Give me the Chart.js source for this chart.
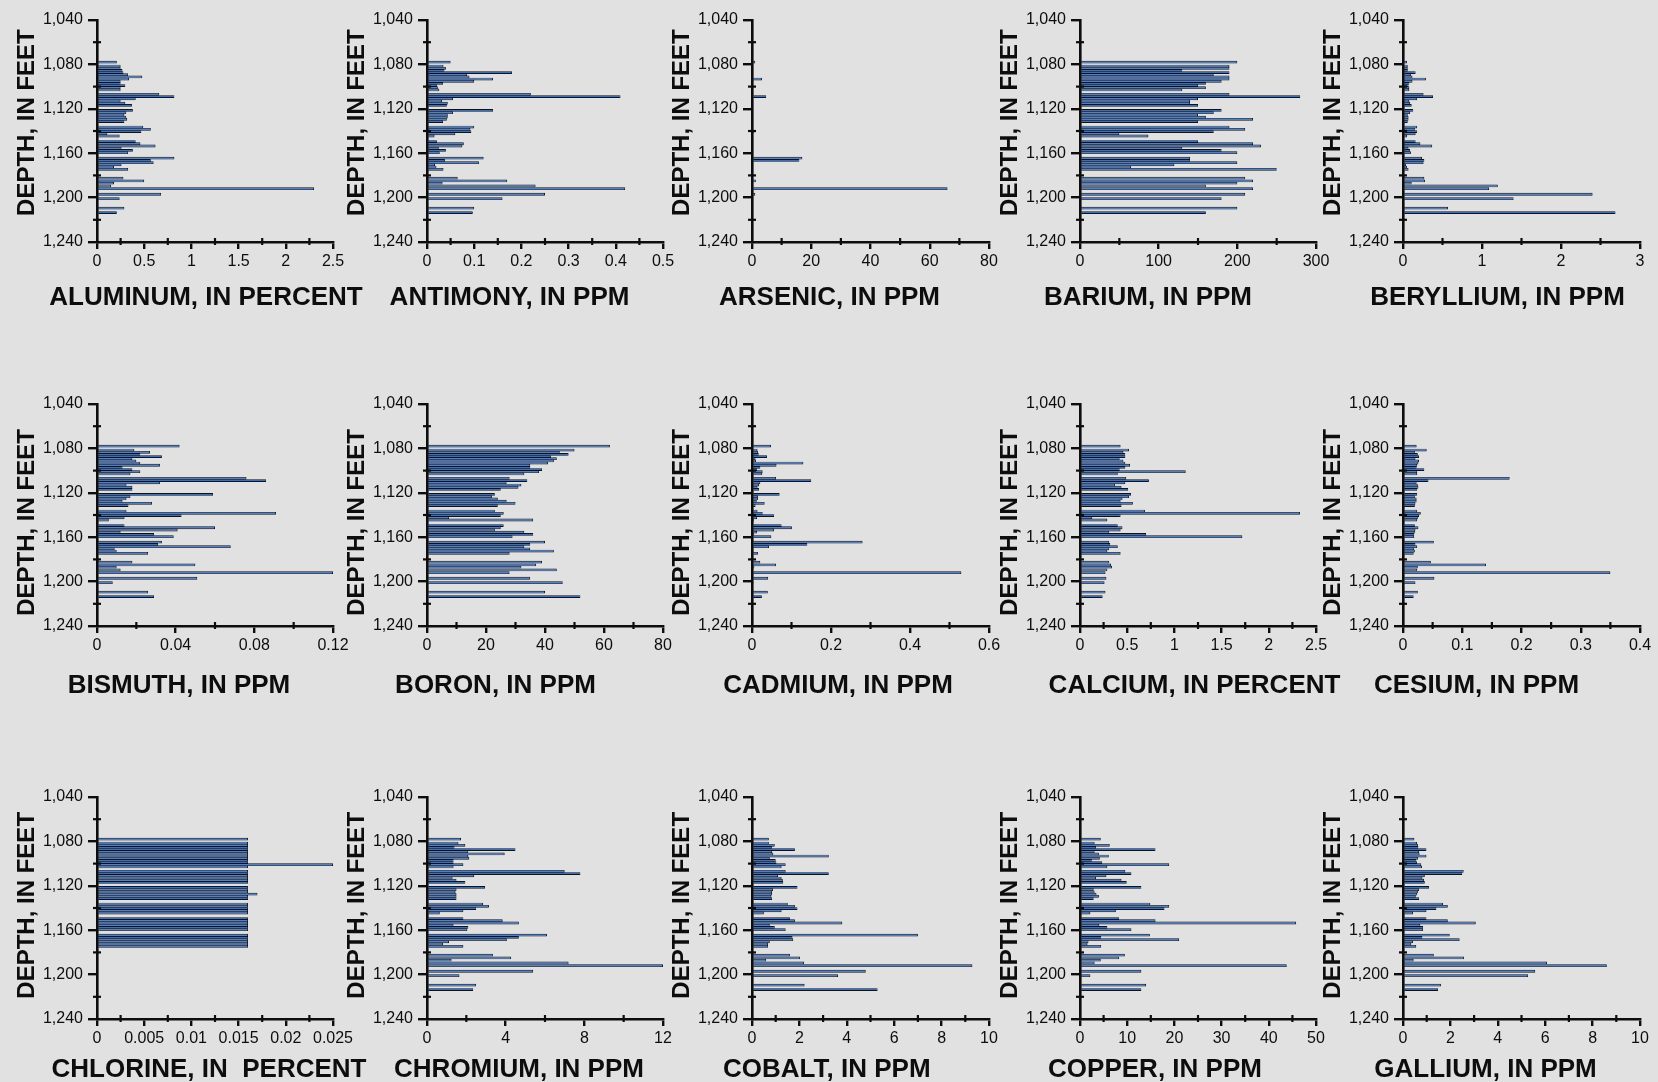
<!DOCTYPE html>
<html><head><meta charset="utf-8">
<script src="https://cdn.jsdelivr.net/npm/chart.js@4.4.1/dist/chart.umd.min.js"></script>
<style>
html,body{margin:0;padding:0;background:#e1e1e1;overflow:hidden;width:1658px;height:1082px;}
canvas{position:absolute;}
</style></head><body>
<script>
// Sample depths (feet), shared by every panel
const depths = [1078, 1081.5, 1083.5, 1085.4, 1087.4, 1089.3, 1091.3, 1093.2, 1095.2, 1097.1, 1099.1, 1101, 1103,
  1107, 1109, 1111, 1113, 1115, 1117,
  1121.5, 1123.5, 1125.5, 1127.5, 1129.5, 1131.5,
  1136.5, 1138.5, 1140.5, 1142.5, 1144.5,
  1149.5, 1151.5, 1153.5, 1155.5, 1157.5, 1159.5,
  1164.5, 1166.5, 1168.5, 1170.5, 1172.5, 1174.5,
  1182.5, 1185, 1187, 1189.5, 1192,
  1197, 1201,
  1209.5, 1213.5];

const aluminum = [0.21,0.25,0.25,0.27,0.28,0.33,0.48,0.34,0.25,0.25,0.30,0.25,0.25,
  0.66,0.82,0.41,0.25,0.30,0.37, 0.38,0.31,0.29,0.31,0.32,0.29, 0.49,0.57,0.47,0.11,0.24,
  0.41,0.46,0.62,0.26,0.38,0.33, 0.82,0.57,0.60,0.26,0.18,0.33, 0.28,0.50,0.18,0.15,2.30,
  0.68,0.24, 0.29,0.21];
const antimony = [0.05,0.035,0.04,0.037,0.18,0.085,0.09,0.14,0.10,0.034,0.021,0.023,0.026,
  0.22,0.41,0.055,0.032,0.044,0.042, 0.14,0.055,0.044,0.044,0.042,0.034, 0.10,0.092,0.094,0.06,0.016,
  0.021,0.078,0.075,0.025,0.04,0.027, 0.12,0.038,0.11,0.017,0.02,0.035, 0.065,0.17,0.033,0.23,0.42,
  0.25,0.16, 0.10,0.097];
const arsenic = [1.1,0.3,0.3,0.3,0.3,0.3,0.3,3.4,0.3,0.3,0.3,0.3,0.3,
  0.3,4.8,0.3,0.3,0.3,0.3, 0.5,0.5,0.3,0.3,0.3,0.3, 0.3,0.3,0.8,0.3,0.3,
  0.3,0.3,0.3,0.3,0.3,0.3, 17,16,0.3,0.3,0.3,0.3, 0.3,1.3,0.3,0.3,66,
  1.1,0.3, 0.3,0.3];
const barium = [200,190,190,130,190,170,190,190,180,160,150,160,130,
  190,280,150,140,140,150, 180,170,150,160,220,150, 190,210,170,50,87,
  150,220,230,130,180,200, 140,140,200,120,65,250, 210,220,200,160,220,
  210,180, 200,160];
const beryllium = [0.05,0.06,0.06,0.06,0.16,0.10,0.12,0.29,0.12,0.08,0.07,0.08,0.08,
  0.26,0.38,0.18,0.08,0.09,0.11, 0.13,0.09,0.06,0.07,0.07,0.06, 0.18,0.15,0.18,0.16,0.05,
  0.16,0.22,0.37,0.07,0.09,0.10, 0.24,0.27,0.26,0.04,0.05,0.07, 0.27,0.28,0.11,1.20,1.09,
  2.40,1.40, 0.57,2.69];
const bismuth = [0.042,0.019,0.027,0.022,0.033,0.018,0.02,0.022,0.032,0.013,0.018,0.022,0.017,
  0.076,0.086,0.032,0.015,0.018,0.018, 0.059,0.017,0.015,0.013,0.028,0.016, 0.015,0.091,0.043,0.014,0.006,
  0.014,0.06,0.041,0.012,0.029,0.039, 0.033,0.031,0.068,0.009,0.01,0.026, 0.018,0.05,0.01,0.012,0.12,
  0.051,0.008, 0.026,0.029];
const boron = [62,50,45,48,42,44,43,41,35,35,39,38,33,
  28,34,27,32,31,25, 23,22,24,27,30,24, 23,26,25,7.5,36,
  26,25,23,33,36,29, 40,35,33,35,43,28, 39,37,32,44,28,
  35,46, 40,52];
const cadmium = [0.048,0.014,0.015,0.017,0.038,0.009,0.01,0.13,0.062,0.021,0.013,0.027,0.026,
  0.061,0.15,0.021,0.018,0.014,0.018, 0.07,0.015,0.015,0.012,0.032,0.009, 0.014,0.027,0.056,0.013,0.005,
  0.075,0.101,0.056,0.013,0.005,0.049, 0.28,0.14,0.043,0.002,0.004,0.015, 0.021,0.061,0.006,0.003,0.53,
  0.041,0.004, 0.04,0.025];
const calcium = [0.43,0.52,0.46,0.48,0.48,0.42,0.46,0.48,0.53,0.48,0.42,1.12,0.40,
  0.49,0.73,0.48,0.37,0.44,0.51, 0.54,0.52,0.45,0.43,0.56,0.44, 0.69,2.33,0.43,0.13,0.29,
  0.40,0.45,0.43,0.31,0.70,1.72, 0.31,0.32,0.40,0.31,0.29,0.43, 0.31,0.33,0.34,0.29,0.27,
  0.28,0.26, 0.27,0.24];
const cesium = [0.023,0.04,0.02,0.025,0.027,0.021,0.027,0.026,0.024,0.023,0.036,0.024,0.024,
  0.18,0.043,0.023,0.025,0.026,0.024, 0.024,0.02,0.023,0.023,0.021,0.02, 0.024,0.03,0.027,0.025,0.024,
  0.02,0.026,0.021,0.02,0.019,0.019, 0.052,0.021,0.024,0.019,0.02,0.018, 0.047,0.14,0.025,0.024,0.35,
  0.053,0.021, 0.025,0.018];
const chlorine = [0.016,0.016,0.016,0.016,0.016,0.016,0.016,0.016,0.016,0.016,0.016,0.025,0.016,
  0.016,0.016,0.016,0.016,0.016,0.016, 0.016,0.016,0.016,0.017,0.016,0.016, 0.016,0.016,0.016,0.016,0.016,
  0.016,0.016,0.016,0.016,0.016,0.016, 0.016,0.016,0.016,0.016,0.016,0.016, null,null,null,null,null,
  null,null, null,null];
const chromium = [1.73,1.6,1.95,1.4,4.5,2.1,3.95,2.1,2.15,1.35,1.35,1.85,1.35,
  7.0,7.8,2.4,1.3,1.5,1.95, 2.95,1.5,1.45,1.5,1.5,1.5, 2.85,3.15,2.5,1.85,0.65,
  1.85,3.85,4.67,1.35,2.1,2.05, 6.1,4.67,4.06,1.12,0.82,1.85, 3.35,4.28,1.25,7.2,12,
  5.4,1.65, 2.5,2.35];
const cobalt = [0.71,0.71,0.96,0.85,1.81,0.85,0.9,3.24,0.75,1.0,1.03,1.42,1.25,
  1.42,3.24,1.1,1.25,1.3,1.32, 1.92,0.89,0.85,0.85,0.82,0.85, 1.51,1.81,1.92,1.25,0.5,
  1.6,1.81,3.81,0.75,0.96,1.42, 7.0,1.71,1.74,0.75,0.68,0.68, 1.6,2.03,0.6,2.2,9.3,
  4.8,3.63, 2.22,5.3];
const copper = [4.4,3.1,6.3,3.4,16,3.1,4.0,6.1,4.2,2.5,4.7,18.9,5.8,
  9.6,10.9,5.6,3.4,8.8,9.9, 13,2.9,3.1,3.5,4,2.9, 14.9,18.9,17.9,7.6,2.2,
  8.3,16,45.8,4.1,5.8,10.9, 14.8,4.5,21,1.8,1.6,4.5, 9.5,8.3,4.4,3.1,43.8,
  13,2.2, 14,13];
const gallium = [0.48,0.59,0.63,0.65,0.99,0.68,0.7,0.99,0.63,0.56,0.59,0.77,0.8,
  2.56,2.5,0.92,0.82,0.89,0.92, 1.1,0.68,0.63,0.6,0.54,0.68, 1.69,1.89,1.41,0.99,0.42,
  0.99,1.89,3.07,0.73,0.85,0.85, 1.97,0.82,2.39,0.42,0.35,0.56, 1.3,2.58,0.45,6.08,8.6,
  5.58,5.28, 1.6,1.48];

const seriesList = [aluminum, antimony, arsenic, barium, beryllium,
  bismuth, boron, cadmium, calcium, cesium,
  chlorine, chromium, cobalt, copper, gallium];
const xTitles = ['ALUMINUM, IN PERCENT','ANTIMONY, IN PPM','ARSENIC, IN PPM','BARIUM, IN PPM','BERYLLIUM, IN PPM',
  'BISMUTH, IN PPM','BORON, IN PPM','CADMIUM, IN PPM','CALCIUM, IN PERCENT','CESIUM, IN PPM',
  'CHLORINE, IN  PERCENT','CHROMIUM, IN PPM','COBALT, IN PPM','COPPER, IN PPM','GALLIUM, IN PPM'];
const yTitle = 'DEPTH, IN FEET';
const xMax  = [2.5, 0.5, 80, 300, 3,  0.12, 80, 0.6, 2.5, 0.4,  0.025, 12, 10, 50, 10];
const xStep = [0.5, 0.1, 20, 100, 1,  0.04, 20, 0.2, 0.5, 0.1,  0.005, 4, 2, 10, 2];
const depthMin = 1040, depthMax = 1240, depthStep = 40;

// layout (page pixels)
const colLeft = [97, 427, 752, 1080, 1403];
const colRight = [333, 663, 989, 1316, 1640];
const rowTop = [20, 404, 797];
const plotH = 222;
const Y_W = 90, TOP_P = 15, RIGHT_P = 40, X_H = 85;
const xTitleDx = [-9,-35.5,-41,-50,-24, -36,-49.5,-32.5,-3.5,-45, -6,-26,-43.7,-43,-36];
const xTitleDy = [53.4, 58, 48.8];
const yTitleDy = [-8.4, 7.5, -2.7];
const FONT = '"Liberation Sans", Arial, Helvetica, sans-serif';
const INK = '#0d0d0d';

function fmt(v) { return String(+v.toFixed(6)); }

const decor = {
  id: 'decor',
  afterDraw(chart, args, o) {
    const ctx = chart.ctx, a = chart.chartArea;
    const xs = chart.scales.x, ys = chart.scales.y;
    ctx.save();
    ctx.strokeStyle = INK; ctx.lineWidth = 2.2;
    const minor = o.step / 2;
    for (let v = minor; v < o.max + 1e-9; v += o.step) {
      const px = xs.getPixelForValue(v);
      ctx.beginPath(); ctx.moveTo(px, a.bottom - 4); ctx.lineTo(px, a.bottom + 3); ctx.stroke();
    }
    for (let v = depthMin + depthStep / 2; v < depthMax; v += depthStep) {
      const py = ys.getPixelForValue(v);
      ctx.beginPath(); ctx.moveTo(a.left - 4, py); ctx.lineTo(a.left + 4, py); ctx.stroke();
    }
    ctx.fillStyle = INK;
    ctx.textAlign = 'center';
    ctx.textBaseline = 'alphabetic';
    ctx.font = 'bold 26px ' + FONT;
    ctx.fillText(o.xTitle, (a.left + a.right) / 2 + o.xdx, a.bottom + o.xdy + 9.3);
    ctx.translate(a.left - 72, (a.top + a.bottom) / 2 + o.ydy);
    ctx.rotate(-Math.PI / 2);
    ctx.font = 'bold 24px ' + FONT;
    ctx.fillText(yTitle, 0, 8.6);
    ctx.restore();
  }
};

seriesList.forEach((vals, i) => {
  const r = Math.floor(i / 5), c = i % 5;
  const w = colRight[c] - colLeft[c];
  const cv = document.createElement('canvas');
  const W = Y_W + w + RIGHT_P, H = TOP_P + plotH + X_H;
  cv.width = W; cv.height = H;
  cv.style.left = (colLeft[c] - Y_W) + 'px';
  cv.style.top = (rowTop[r] - TOP_P) + 'px';
  cv.style.width = W + 'px'; cv.style.height = H + 'px';
  document.body.appendChild(cv);
  const data = [];
  depths.forEach((d, k) => { if (vals[k] !== null && vals[k] !== undefined) data.push({ x: vals[k], y: d }); });
  new Chart(cv, {
    type: 'bar',
    data: { datasets: [{ data, backgroundColor: '#3a6fc0', borderColor: '#0b1220', borderWidth: 0.9,
      borderSkipped: 'start', barThickness: 2.8, inflateAmount: 0 }] },
    plugins: [decor],
    options: {
      indexAxis: 'y', responsive: false, animation: false, events: [], devicePixelRatio: 1,
      layout: { padding: { top: TOP_P, right: RIGHT_P, bottom: 0, left: 0 } },
      plugins: { legend: { display: false }, tooltip: { enabled: false }, title: { display: false },
        decor: { xTitle: xTitles[i], xdx: xTitleDx[i], xdy: xTitleDy[r], ydy: yTitleDy[r], step: xStep[i], max: xMax[i] } },
      scales: {
        x: { type: 'linear', min: 0, max: xMax[i], offset: false,
          afterFit: s => { s.height = X_H; },
          ticks: { stepSize: xStep[i], color: INK, padding: 3, maxRotation: 0, autoSkip: false,
            font: { family: FONT, size: 16 }, callback: v => fmt(v) },
          grid: { drawOnChartArea: false, drawTicks: true, tickLength: 7, lineWidth: 2.4, tickWidth: 2.4, tickColor: INK, color: INK, offset: false },
          border: { display: true, color: INK, width: 2.6, z: 1 } },
        y: { type: 'linear', min: depthMin, max: depthMax, reverse: true, offset: false,
          afterFit: s => { s.width = Y_W; },
          ticks: { stepSize: depthStep, color: INK, padding: 5, autoSkip: false,
            font: { family: FONT, size: 16 }, callback: v => v.toLocaleString('en-US') },
          grid: { drawOnChartArea: false, drawTicks: true, tickLength: 9, lineWidth: 2.4, tickWidth: 2.4, tickColor: INK, color: INK, offset: false },
          border: { display: true, color: INK, width: 2.6, z: 1 } }
      }
    }
  });
});
</script>
</body></html>
